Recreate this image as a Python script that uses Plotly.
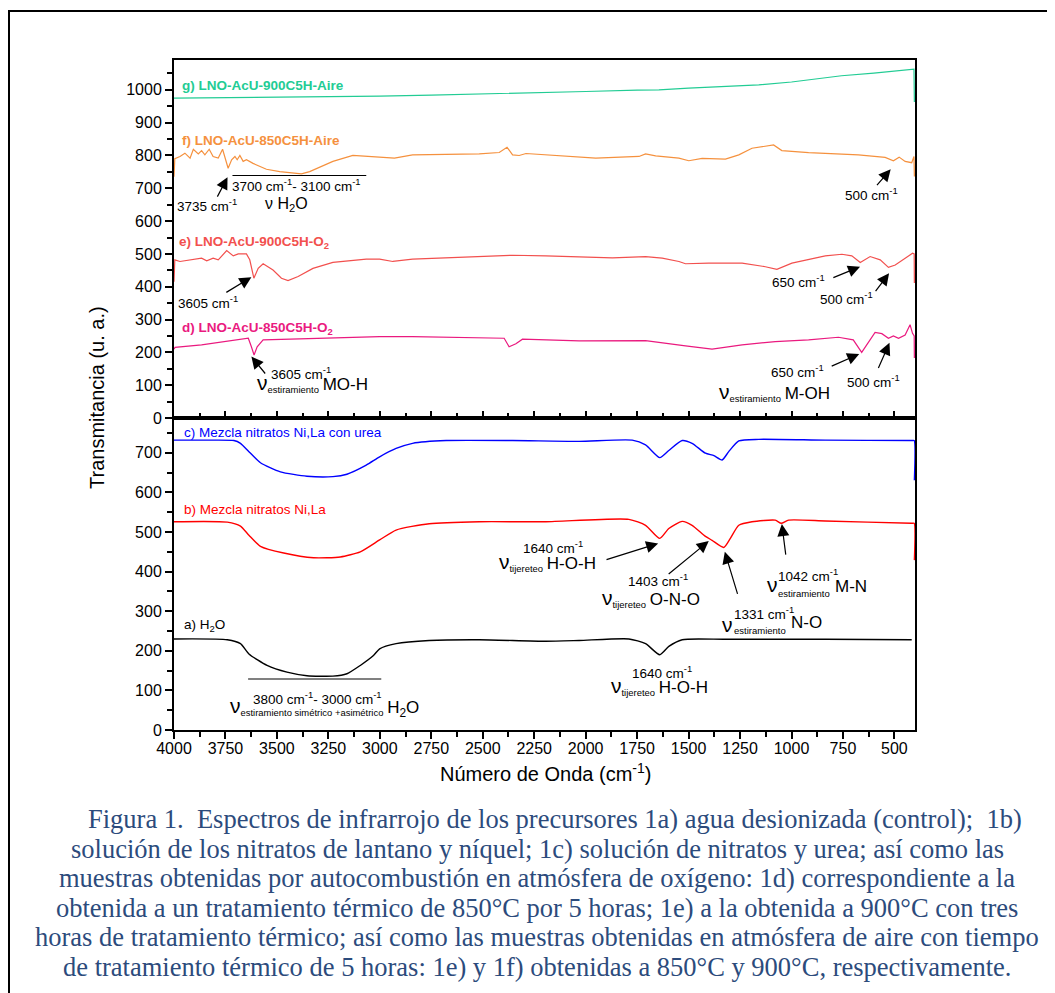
import plotly.graph_objects as go

# ---- spectra (wavenumber cm-1, transmittance u.a.) ----
g_wn = [4000, 3750, 3500, 3250, 3000, 2750, 2500, 2250, 2000, 1750, 1644, 1500, 1250,
        1159, 1000, 757, 600, 500, 420, 405, 403]
g_t = [975, 976, 977, 979, 981, 984, 987, 991, 995, 999, 1000, 1005, 1012,
       1015, 1024, 1043, 1051, 1057, 1062, 1063, 963]

f_wn = [4000, 3996, 3971, 3947, 3922, 3906, 3882, 3866, 3850, 3829, 3810, 3785, 3764, 3748,
        3737, 3720, 3704, 3693, 3680, 3664, 3648, 3616, 3551, 3486, 3422, 3381, 3341, 3276,
        3228, 3131, 3034, 2929, 2841, 2678, 2517, 2420, 2382, 2355, 2323, 2290, 2113, 1951,
        1741, 1709, 1660, 1547, 1499, 1434, 1321, 1256, 1192, 1111, 1087, 1047, 917, 675,
        545, 505, 477, 448, 416, 405, 403]
f_t = [735, 790, 797, 807, 792, 819, 805, 815, 802, 819, 797, 792, 819, 787,
       761, 787, 797, 787, 800, 782, 787, 776, 758, 751, 748, 744, 751, 768,
       782, 800, 797, 792, 802, 804, 805, 809, 825, 802, 800, 806, 799, 792,
       797, 805, 799, 792, 784, 791, 789, 802, 822, 829, 832, 815, 809, 802,
       794, 784, 795, 782, 778, 797, 736]

e_wn = [4000, 3996, 3971, 3922, 3866, 3841, 3810, 3785, 3744, 3712, 3688, 3648, 3632, 3612,
        3591, 3567, 3519, 3478, 3446, 3397, 3325, 3228, 3066, 3001, 2937, 2841, 2678, 2517,
        2355, 2194, 2032, 1870, 1709, 1628, 1547, 1515, 1402, 1240, 1127, 1071, 998, 917,
        836, 755, 707, 666, 618, 569, 529, 496, 448, 412, 404, 403]
e_t = [415, 482, 477, 482, 487, 479, 487, 482, 510, 494, 500, 500, 482, 426,
       456, 470, 451, 426, 419, 431, 456, 474, 484, 484, 477, 484, 488, 490,
       496, 494, 492, 488, 492, 487, 477, 470, 472, 472, 461, 453, 472, 484,
       494, 499, 494, 474, 492, 482, 459, 466, 487, 502, 500, 411]

d_wn = [4000, 3995, 3866, 3744, 3639, 3624, 3611, 3596, 3567, 3390, 3001, 2841, 2517, 2396,
        2372, 2339, 2307, 2032, 1709, 1644, 1547, 1515, 1386, 1240, 1079, 917, 772, 700,
        659, 626, 594, 561, 529, 505, 480, 448, 424, 412, 404, 403]
d_t = [210, 215, 223, 233, 243, 217, 192, 217, 238, 241, 248, 248, 245, 243,
       217, 226, 240, 235, 236, 230, 223, 220, 210, 223, 233, 238, 246, 238,
       200, 233, 261, 257, 243, 250, 243, 253, 284, 258, 250, 183]

c_wn = [4000, 3850, 3709, 3677, 3636, 3580, 3483, 3354, 3228, 3160, 3066, 3001, 2921, 2841,
        2678, 2355, 2032, 1774, 1709, 1640, 1596, 1531, 1483, 1418, 1377, 1337, 1305, 1256,
        1159, 836, 416, 404, 403]
c_t = [732, 732, 731, 724, 703, 675, 652, 641, 640, 646, 669, 690, 711, 724,
       731, 731, 729, 732, 720, 688, 706, 731, 724, 699, 693, 682, 703, 730,
       734, 732, 731, 731, 631]

b_wn = [4000, 3741, 3677, 3636, 3580, 3467, 3322, 3192, 3095, 3001, 2921, 2760, 2517, 2194,
        1790, 1709, 1640, 1596, 1531, 1483, 1418, 1386, 1329, 1297, 1256, 1192, 1079, 1050,
        1014, 836, 416, 404, 403]
b_t = [526, 525, 515, 492, 464, 447, 435, 437, 450, 480, 505, 521, 526, 526,
       532, 517, 484, 509, 527, 517, 489, 479, 461, 484, 517, 526, 530, 522,
       530, 528, 522, 522, 429]

a_wn = [4000, 3741, 3677, 3636, 3548, 3451, 3354, 3228, 3160, 3095, 3031, 3001, 2921, 2760,
        2517, 2194, 2032, 1790, 1709, 1640, 1596, 1531, 1321, 836, 416]
a_t = [230, 228, 218, 192, 163, 146, 137, 136, 142, 163, 188, 205, 218, 226,
       228, 224, 226, 230, 218, 190, 211, 228, 229, 229, 228]

top_series = [
    ("g) LNO-AcU-900C5H-Aire", g_wn, g_t, "#22CC94"),
    ("f) LNO-AcU-850C5H-Aire", f_wn, f_t, "#F5913E"),
    ("e) LNO-AcU-900C5H-O<sub>2</sub>", e_wn, e_t, "#F2504E"),
    ("d) LNO-AcU-850C5H-O<sub>2</sub>", d_wn, d_t, "#EA1A7F"),
]
bottom_series = [
    ("c) Mezcla nitratos Ni,La con urea", c_wn, c_t, "#0000FF"),
    ("b) Mezcla nitratos Ni,La", b_wn, b_t, "#FF0000"),
    ("a) H<sub>2</sub>O", a_wn, a_t, "#000000"),
]

caption = [
    "Figura 1.\u00a0 Espectros de infrarrojo de los precursores 1a) agua desionizada (control);\u00a0 1b)",
    "solución de los nitratos de lantano y níquel; 1c) solución de nitratos y urea; así como las",
    "muestras obtenidas por autocombustión en atmósfera de oxígeno: 1d) correspondiente a la",
    "obtenida a un tratamiento térmico de 850°C por 5 horas; 1e) a la obtenida a 900°C con tres",
    "horas de tratamiento térmico; así como las muestras obtenidas en atmósfera de aire con tiempo",
    "de tratamiento térmico de 5 horas: 1e) y 1f) obtenidas a 850°C y 900°C, respectivamente.",
]

FONT = "Liberation Sans, Arial, sans-serif"
# page has an 8px body margin; plot area sits at x 174..915, y 60..730 of the page
W, H = 1047, 985
L, R, T, B = 166, 140, 52, 263
PX0, PY1, PW, PH = 174, 730, 741, 670
SPLIT = 0.4657

fig = go.Figure()
for name, wn, t, col in top_series:
    fig.add_trace(go.Scatter(x=wn, y=t, mode="lines", name=name, xaxis="x2", yaxis="y2",
                             line=dict(color=col, width=1.2)))
for name, wn, t, col in bottom_series:
    fig.add_trace(go.Scatter(x=wn, y=t, mode="lines", name=name,
                             line=dict(color=col, width=1.4, shape="spline", smoothing=0.6)))


def nu(sub, txt, big=21, mid=17):
    return (f"<span style='font-size:{big}px'>ν</span><sub>{sub}</sub> "
            f"<span style='font-size:{mid}px'>{txt}</span>")


ann = []


def label(x, y, text, ax="x", size=13.5, color="black", anchor="center"):
    yref = "y2" if ax == "x2" else "y"
    ann.append(dict(x=x, y=y, xref=ax, yref=yref, text=text, showarrow=False,
                    xanchor=anchor, yanchor="middle", font=dict(size=size, color=color, family=FONT)))


def arrow(x, y, tx, ty, ax="x"):
    yref = "y2" if ax == "x2" else "y"
    ann.append(dict(x=x, y=y, xref=ax, yref=yref, ax=tx, ay=ty, axref=ax, ayref=yref,
                    text="", showarrow=True, arrowhead=2, arrowsize=2, arrowwidth=1.2,
                    arrowcolor="black"))


def page(px, py):
    return (px - PX0) / PW, (PY1 - py) / PH


# series labels
label(3971, 1013, "<b>" + top_series[0][0] + "</b>", "x2", 13.5, top_series[0][3], "left")
label(3971, 845, "<b>" + top_series[1][0] + "</b>", "x2", 13.5, top_series[1][3], "left")
label(3985, 534, "<b>" + top_series[2][0] + "</b>", "x2", 13.5, top_series[2][3], "left")
label(3971, 273, "<b>" + top_series[3][0] + "</b>", "x2", 13.5, top_series[3][3], "left")
label(3963, 751, bottom_series[0][0], "x", 13.5, bottom_series[0][3], "left")
label(3963, 557, bottom_series[1][0], "x", 13.5, bottom_series[1][3], "left")
label(3963, 264, bottom_series[2][0], "x", 13.5, bottom_series[2][3], "left")

# top panel notes
label(3404, 710, "3700 cm<sup>-1</sup>- 3100 cm<sup>-1</sup>", "x2")
label(3452, 652, "ν H<sub>2</sub>O", "x2", 16)
label(3995, 649, "3735 cm<sup>-1</sup>", "x2", anchor="left")
arrow(3740, 734, 3793, 670, "x2")
label(3835, 352, "3605 cm<sup>-1</sup>", "x2")
arrow(3624, 429, 3753, 380, "x2")
label(3540, 136, "3605 cm<sup>-1</sup>", "x2", anchor="left")
label(3607, 107, nu("estiramiento", "MO-H"), "x2", anchor="left")
arrow(3624, 187, 3551, 131, "x2")
label(612, 683, "500 cm<sup>-1</sup>", "x2")
arrow(518, 758, 591, 705, "x2")
label(966, 416, "650 cm<sup>-1</sup>", "x2")
arrow(667, 461, 804, 426, "x2")
label(733, 367, "500 cm<sup>-1</sup>", "x2")
arrow(526, 441, 597, 382, "x2")
label(970, 144, "650 cm<sup>-1</sup>", "x2")
arrow(671, 195, 812, 156, "x2")
label(602, 114, "500 cm<sup>-1</sup>", "x2")
arrow(524, 229, 581, 148, "x2")
label(1363, 78, nu("estiramiento", "M-OH"), "x2", anchor="left")

# bottom panel notes
label(3302, 81, "3800 cm<sup>-1</sup>- 3000 cm<sup>-1</sup>")
label(3738, 59, nu("estiramiento simétrico +asimétrico", "H<sub>2</sub>O"), anchor="left")
label(2158, 462, "1640 cm<sup>-1</sup>")
label(2187, 424, nu("tijereteo", "H-O-H"))
arrow(1648, 471, 1906, 429)
label(1649, 378, "1403 cm<sup>-1</sup>")
label(1683, 334, nu("tijereteo", "O-N-O"))
arrow(1402, 477, 1604, 391)
label(1349, 267, "<span style='font-size:21px'>ν</span>", anchor="left")
label(1290, 295, "1331 cm<sup>-1</sup>", anchor="left")
label(1290, 251, "estiramiento", size=9.5, anchor="left")
label(1014, 272, "N-O", size=17, anchor="left")
arrow(1324, 450, 1260, 340)
label(1130, 368, "<span style='font-size:21px'>ν</span>", anchor="left")
label(1077, 391, "1042 cm<sup>-1</sup>", anchor="left")
label(1077, 346, "estiramiento", size=9.5, anchor="left")
label(796, 363, "M-N", size=17, anchor="left")
arrow(1047, 520, 1027, 439)
label(1630, 146, "1640 cm<sup>-1</sup>")
label(1640, 110, nu("tijereteo", "H-O-H"))

# axis titles
x0, y0 = page(97, 398)
ann.append(dict(x=x0, y=y0, xref="paper", yref="paper", xanchor="center", yanchor="middle",
                text="Transmitancia (u. a.)", textangle=-90, showarrow=False,
                font=dict(size=20, family=FONT, color="black")))
x0, y0 = page(545, 772)
ann.append(dict(x=x0, y=y0, xref="paper", yref="paper", xanchor="center", yanchor="middle",
                text="Número de Onda (cm<sup>-1</sup>)", showarrow=False,
                font=dict(size=20, family=FONT, color="black")))

# caption
for i, line in enumerate(caption):
    x0, y0 = page(555 if i == 0 else 537, 819 + 29.5 * i)
    ann.append(dict(x=x0, y=y0, xref="paper", yref="paper",
                    text=line, showarrow=False, xanchor="center", yanchor="middle",
                    font=dict(size=26.5, family="Liberation Serif, Times New Roman, serif",
                              color="#2C4B7C")))

fx0, fy1 = page(9, 11)
fx1, fy0 = page(1070, 1010)
shapes = [
    dict(type="line", xref="x2", yref="y2", x0=3716, x1=3066, y0=739, y1=739,
         line=dict(color="black", width=1.2)),
    dict(type="line", xref="x", yref="y", x0=3640, x1=2993, y0=129, y1=129,
         line=dict(color="#808080", width=2)),
    dict(type="rect", xref="paper", yref="paper", x0=fx0, x1=fx1, y0=fy0, y1=fy1,
         line=dict(color="black", width=2)),
]

xcommon = dict(range=[4000, 400], dtick=250, tick0=4000, showline=True, linecolor="black",
               linewidth=2, mirror=True, showgrid=False, zeroline=False, ticklen=7,
               tickwidth=1.5, tickcolor="black",
               minor=dict(dtick=125, ticks="", ticklen=5, tickwidth=1.5, tickcolor="black",
                          showgrid=False),
               tickfont=dict(size=16, family=FONT, color="black"))
ycommon = dict(showline=True, linecolor="black", linewidth=2, mirror=True, showgrid=False,
               zeroline=False, ticks="outside", ticklen=7, tickwidth=1.5, tickcolor="black",
               dtick=100, tick0=0,
               minor=dict(dtick=50, ticks="outside", ticklen=5, tickwidth=1.5,
                          tickcolor="black", showgrid=False),
               tickfont=dict(size=16, family=FONT, color="black"))

xb = dict(xcommon, anchor="y", domain=[0, 1], ticks="outside", ticklabelstandoff=-4)
xb["minor"] = dict(xcommon["minor"], ticks="outside")
xt = dict(xcommon, anchor="y2", domain=[0, 1], ticks="inside", showticklabels=False,
          matches="x")
xt["minor"] = dict(xcommon["minor"], ticks="inside")

fig.update_layout(
    width=W, height=H,
    margin=dict(l=L, r=R, t=T, b=B),
    paper_bgcolor="white", plot_bgcolor="white",
    showlegend=False,
    font=dict(family=FONT, color="black"),
    xaxis=xb,
    xaxis2=xt,
    yaxis=dict(ycommon, domain=[0, SPLIT], range=[0, 788], anchor="x"),
    yaxis2=dict(ycommon, domain=[SPLIT, 1], range=[0, 1091], anchor="x2"),
    annotations=ann,
    shapes=shapes,
)

fig.write_html("out.html")
